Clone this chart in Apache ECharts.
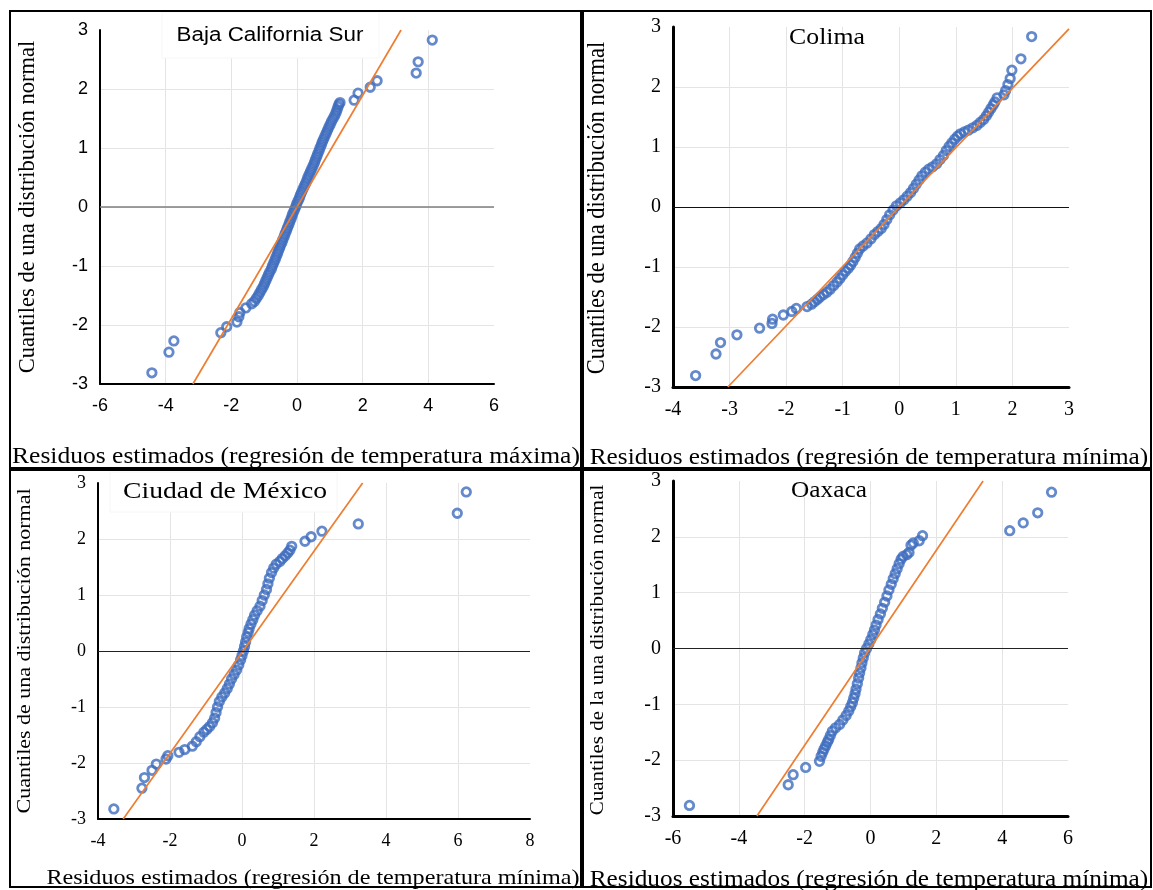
<!DOCTYPE html>
<html>
<head>
<meta charset="utf-8">
<title>Gráficos Q-Q de residuos</title>
<script src="https://cdn.jsdelivr.net/npm/echarts@6/dist/echarts.min.js"></script>
<style>
  html, body { margin: 0; padding: 0; background: #fff; }
  #chart { width: 1153px; height: 890px; }
</style>
</head>
<body>
<div id="chart"></div>
<script>
// puntos [residuo estimado, cuantil normal] leídos de cada panel
var bcsPoints = [
  [-4.42,-2.81],[-3.9,-2.46],[-3.75,-2.27],[-2.32,-2.13],[-2.14,-2.03],[-1.83,-1.95],[-1.77,-1.86],
  [-1.74,-1.79],[-1.56,-1.71],[-1.38,-1.64],[-1.3,-1.6],
  [-1.24,-1.55],[-1.18,-1.5],[-1.13,-1.45],[-1.08,-1.4],[-1.03,-1.35],[-0.99,-1.3],[-0.95,-1.25],
  [-0.91,-1.2],[-0.87,-1.15],[-0.83,-1.1],[-0.78,-1.05],[-0.75,-1.0],[-0.71,-0.95],[-0.67,-0.9],
  [-0.64,-0.85],[-0.6,-0.8],[-0.57,-0.75],[-0.53,-0.7],[-0.5,-0.65],[-0.46,-0.6],[-0.43,-0.55],
  [-0.39,-0.5],[-0.36,-0.45],[-0.32,-0.4],[-0.29,-0.35],[-0.25,-0.3],[-0.22,-0.25],[-0.18,-0.2],
  [-0.15,-0.15],[-0.12,-0.1],[-0.08,-0.05],[-0.04,0],[-0.01,0.05],[0.03,0.1],[0.07,0.15],
  [0.1,0.2],[0.14,0.25],[0.18,0.3],[0.22,0.35],[0.26,0.4],[0.3,0.45],[0.33,0.5],[0.37,0.55],
  [0.41,0.6],[0.45,0.65],[0.49,0.7],[0.53,0.75],[0.56,0.8],[0.6,0.85],[0.63,0.9],[0.67,0.95],
  [0.7,1.0],[0.74,1.05],[0.77,1.1],[0.81,1.15],[0.85,1.2],[0.89,1.25],[0.93,1.3],[0.97,1.35],
  [1.01,1.4],[1.05,1.45],[1.1,1.5],[1.15,1.55],[1.19,1.6],[1.22,1.65],[1.25,1.7],[1.28,1.74],
  [1.31,1.77],
  [1.74,1.81],[1.86,1.93],[2.23,2.03],[2.44,2.14],[3.63,2.27],[3.69,2.46],[4.12,2.83]
];
var colimaPoints = [
  [-3.6,-2.81],[-3.24,-2.45],[-3.16,-2.26],[-2.87,-2.13],[-2.47,-2.02],[-2.25,-1.94],[-2.24,-1.87],
  [-2.05,-1.8],[-1.9,-1.74],[-1.82,-1.69],[-1.63,-1.66],[-1.55,-1.62],
  [-1.5,-1.58],[-1.45,-1.54],[-1.4,-1.5],[-1.34,-1.46],[-1.28,-1.42],[-1.22,-1.37],[-1.16,-1.31],
  [-1.1,-1.25],[-1.05,-1.19],[-1.0,-1.13],[-0.95,-1.07],[-0.9,-1.02],[-0.86,-0.97],[-0.82,-0.91],
  [-0.78,-0.84],[-0.74,-0.77],[-0.7,-0.7],[-0.64,-0.65],[-0.57,-0.6],[-0.5,-0.53],[-0.44,-0.46],
  [-0.38,-0.41],[-0.32,-0.36],[-0.27,-0.29],[-0.22,-0.21],[-0.17,-0.13],[-0.11,-0.05],[-0.05,0.02],
  [0.02,0.07],[0.08,0.12],[0.14,0.18],[0.2,0.24],[0.25,0.31],[0.3,0.38],[0.35,0.45],[0.4,0.52],
  [0.46,0.58],[0.52,0.63],[0.59,0.67],[0.66,0.72],[0.72,0.79],[0.78,0.86],[0.83,0.94],[0.88,1.01],
  [0.93,1.07],[0.98,1.13],[1.03,1.18],[1.08,1.22],[1.15,1.25],[1.22,1.28],[1.3,1.32],[1.37,1.36],
  [1.43,1.41],[1.49,1.46],[1.54,1.52],[1.58,1.58],[1.62,1.64],[1.66,1.7],[1.69,1.75],
  [1.73,1.82],[1.85,1.87],[1.88,1.94],[1.92,2.04],[1.96,2.14],[1.99,2.28],[2.15,2.47],[2.34,2.84]
];
var cdmxPoints = [
  [-3.56,-2.82],[-2.78,-2.45],[-2.71,-2.26],[-2.5,-2.13],[-2.38,-2.02],[-2.11,-1.93],[-2.06,-1.87],
  [-1.75,-1.81],[-1.59,-1.76],[-1.38,-1.7],[-1.27,-1.62],[-1.17,-1.53],[-1.06,-1.45],
  [-0.98,-1.4],[-0.9,-1.35],[-0.82,-1.28],[-0.76,-1.2],[-0.72,-1.1],[-0.68,-1.0],[-0.63,-0.9],
  [-0.56,-0.82],[-0.48,-0.75],[-0.41,-0.67],[-0.35,-0.59],[-0.29,-0.5],[-0.22,-0.42],[-0.15,-0.34],
  [-0.09,-0.25],[-0.04,-0.16],[0.0,-0.08],[0.04,0.0],[0.07,0.08],[0.1,0.16],[0.13,0.25],[0.17,0.33],
  [0.2,0.4],[0.25,0.48],[0.3,0.56],[0.35,0.64],[0.42,0.72],[0.5,0.8],[0.56,0.9],[0.62,1.0],
  [0.68,1.1],[0.72,1.2],[0.76,1.3],[0.82,1.4],[0.88,1.48],[0.95,1.55],[1.05,1.6],[1.12,1.65],
  [1.2,1.7],[1.27,1.75],[1.33,1.8],[1.38,1.87],
  [1.75,1.96],[1.92,2.04],[2.22,2.14],[3.23,2.27],[5.98,2.46],[6.23,2.84]
];
var oaxacaPoints = [
  [-5.5,-2.81],[-2.5,-2.44],[-2.35,-2.26],[-1.97,-2.13],[-1.55,-2.02],[-1.5,-1.93],[-1.45,-1.86],
  [-1.41,-1.8],
  [-1.36,-1.74],[-1.31,-1.68],[-1.27,-1.63],[-1.22,-1.56],[-1.16,-1.48],[-1.06,-1.42],[-0.94,-1.36],
  [-0.84,-1.28],[-0.74,-1.2],[-0.66,-1.12],[-0.6,-1.04],[-0.55,-0.97],[-0.51,-0.89],[-0.47,-0.81],
  [-0.44,-0.73],[-0.4,-0.63],[-0.36,-0.53],[-0.33,-0.44],[-0.29,-0.35],[-0.26,-0.26],[-0.22,-0.17],
  [-0.18,-0.08],[-0.12,0.0],[-0.05,0.08],[0.01,0.16],[0.07,0.25],[0.12,0.33],[0.17,0.42],
  [0.23,0.52],[0.3,0.62],[0.36,0.72],[0.43,0.83],[0.5,0.94],[0.56,1.05],[0.63,1.15],[0.69,1.25],
  [0.75,1.34],[0.81,1.43],[0.87,1.52],[0.93,1.6],[0.99,1.65],[1.1,1.68],[1.17,1.72],
  [1.23,1.85],[1.3,1.89],[1.48,1.93],[1.58,2.02],[4.23,2.11],[4.64,2.25],[5.08,2.43],[5.5,2.8]
];

// recta de referencia (extremos)
var bcsLine = [[-3.17, -3], [3.17, 3]];
var colimaLine = [[-3.03, -3], [3.0, 2.97]];
var cdmxLine = [[-3.3, -3], [3.35, 3]];
var oaxacaLine = [[-3.45, -3], [3.42, 3]];

// ejes: [min, max, intervalo]
var xRanges = [[-6, 6, 2], [-4, 3, 1], [-4, 8, 2], [-6, 6, 2]];
var yRange = [-3, 3, 1];

var panelTitles = ['Baja California Sur', 'Colima', 'Ciudad de México', 'Oaxaca'];
var xTitles = [
  'Residuos estimados (regresión de temperatura máxima)',
  'Residuos estimados (regresión de temperatura mínima)',
  'Residuos estimados (regresión de temperatura mínima)',
  'Residuos estimados (regresión de temperatura mínima)'
];
var yTitles = [
  'Cuantiles de una distribución normal',
  'Cuantiles de una distribución normal',
  'Cuantiles de una distribución normal',
  'Cuantiles de la una distribución normal'
];

var SERIF = "'Liberation Serif', 'Times New Roman', serif";
var SANS = "'Liberation Sans', Arial, sans-serif";

var allPoints = [bcsPoints, colimaPoints, cdmxPoints, oaxacaPoints];
var allLines = [bcsLine, colimaLine, cdmxLine, oaxacaLine];

var panels = [
  { grid: { left: 100, top: 30, width: 394, height: 354 }, font: SANS, fs: 18, base: '#7f7f7f', baseW: 1.5, axisW: 2,
    title: { x: 270, y: 35, font: SANS, fs: 20, sx: 1.12, box: [162, 12, 217, 46] },
    xt: { x: 296, y: 457, fs: 23, sx: 1.11 }, yt: { x: 28, y: 207, fs: 22.5, sy: 1.0 } },
  { grid: { left: 673, top: 27, width: 396, height: 360 }, font: SERIF, fs: 20, base: '#111', baseW: 1, axisW: 3,
    title: { x: 827, y: 38, font: SERIF, fs: 23, sx: 1.12, box: null },
    xt: { x: 869, y: 458, fs: 23, sx: 1.1 }, yt: { x: 598, y: 208, fs: 22.5, sy: 1.08 } },
  { grid: { left: 98, top: 483, width: 432, height: 336 }, font: SERIF, fs: 18, base: '#222', baseW: 1, axisW: 2,
    title: { x: 225, y: 492, font: SERIF, fs: 23, sx: 1.2, box: [110, 472, 227, 40] },
    xt: { x: 313, y: 878, fs: 21, sx: 1.15 }, yt: { x: 25, y: 651, fs: 22, sy: 0.82 } },
  { grid: { left: 673, top: 481, width: 395, height: 335 }, font: SERIF, fs: 20, base: '#222', baseW: 1, axisW: 3,
    title: { x: 829, y: 491, font: SERIF, fs: 23, sx: 1.1, box: null },
    xt: { x: 869, y: 880, fs: 23, sx: 1.1 }, yt: { x: 598, y: 650, fs: 21, sy: 0.92 } }
];

function label(str, cx, cy, font, size, rot, sx, sy) {
  return {
    type: 'text', x: cx, y: cy, rotation: rot || 0, scaleX: sx || 1, scaleY: sy || 1, z: 20,
    style: { text: str, font: size + 'px ' + font, fill: '#000',
      align: 'center', verticalAlign: 'middle', textAlign: 'center', textVerticalAlign: 'middle' }
  };
}

var grids = [], xAxes = [], yAxes = [], series = [], graphics = [];

panels.forEach(function (p, i) {
  grids.push(Object.assign({ show: false, containLabel: false }, p.grid));
  var gridLine = { show: true, showMinLine: false, showMaxLine: false, lineStyle: { color: '#e4e4e4', width: 1 } };
  xAxes.push({
    type: 'value', gridIndex: i, min: xRanges[i][0], max: xRanges[i][1], interval: xRanges[i][2],
    axisLine: { show: true, onZero: false, lineStyle: { color: '#000', width: p.axisW } },
    axisTick: { show: false },
    axisLabel: { color: '#000', fontFamily: p.font, fontSize: p.fs, margin: 13 },
    splitLine: gridLine
  });
  yAxes.push({
    type: 'value', gridIndex: i, min: yRange[0], max: yRange[1], interval: yRange[2],
    axisLine: { show: true, onZero: false, lineStyle: { color: '#000', width: p.axisW } },
    axisTick: { show: false },
    axisLabel: { color: '#000', fontFamily: p.font, fontSize: p.fs, margin: 12 },
    splitLine: gridLine
  });
  // línea horizontal en cero
  series.push({
    type: 'line', xAxisIndex: i, yAxisIndex: i, data: [], silent: true, z: 1,
    markLine: {
      silent: true, symbol: ['none', 'none'], animation: false, label: { show: false },
      lineStyle: { color: p.base, width: p.baseW, type: 'solid' },
      data: [{ yAxis: 0 }]
    }
  });
  series.push({
    type: 'scatter', xAxisIndex: i, yAxisIndex: i, data: allPoints[i], silent: true, z: 2,
    symbol: 'circle', symbolSize: 8.5,
    itemStyle: { color: 'rgba(0,0,0,0)', borderColor: '#3F6DBE', borderWidth: 2.8 }
  });
  series.push({
    type: 'line', xAxisIndex: i, yAxisIndex: i, data: allLines[i], silent: true, z: 3,
    showSymbol: false, symbol: 'none',
    lineStyle: { color: '#ED7D31', width: 1.7 }
  });

  var t = p.title;
  if (t.box) {
    graphics.push({ type: 'rect', z: 15, shape: { x: t.box[0], y: t.box[1], width: t.box[2], height: t.box[3] },
      style: { fill: '#fff', stroke: '#f6f6f6', lineWidth: 1 } });
  }
  graphics.push(label(panelTitles[i], t.x, t.y, t.font, t.fs, 0, t.sx, 1));
  graphics.push(label(xTitles[i], p.xt.x, p.xt.y, SERIF, p.xt.fs, 0, p.xt.sx, 1));
  graphics.push(label(yTitles[i], p.yt.x, p.yt.y, SERIF, p.yt.fs, Math.PI / 2, 1, p.yt.sy));
});

// marcos de los cuatro paneles
[[10, 11, 571, 457], [583, 11, 568, 457], [10, 470, 571, 417], [583, 470, 568, 417]].forEach(function (r) {
  graphics.push({ type: 'rect', z: 25, shape: { x: r[0], y: r[1], width: r[2], height: r[3] },
    style: { fill: 'none', stroke: '#000', lineWidth: 2 } });
});

var chart = echarts.init(document.getElementById('chart'));
chart.setOption({
  animation: false,
  backgroundColor: '#fff',
  grid: grids,
  xAxis: xAxes,
  yAxis: yAxes,
  series: series,
  graphic: { elements: graphics }
});
</script>
</body>
</html>
